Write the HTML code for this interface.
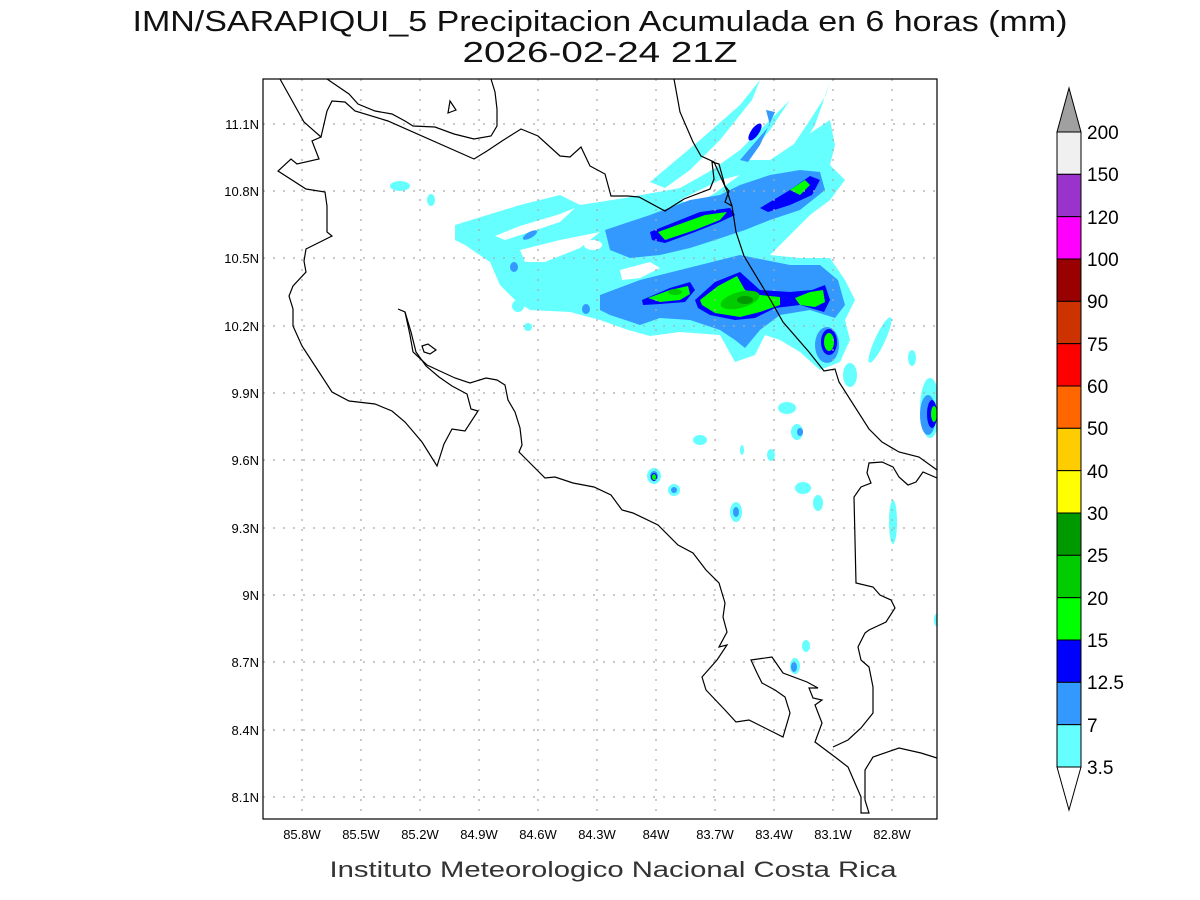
<!DOCTYPE html>
<html><head><meta charset="utf-8"><style>
html,body{margin:0;padding:0;background:#fff;}
svg{display:block}
text{font-family:"Liberation Sans",sans-serif;}
</style></head><body>
<svg width="1200" height="900" viewBox="0 0 1200 900" xmlns="http://www.w3.org/2000/svg">
<rect width="1200" height="900" fill="#fff"/>
<text x="600" y="31" font-size="29" text-anchor="middle" textLength="935" lengthAdjust="spacingAndGlyphs" fill="#111">IMN/SARAPIQUI_5 Precipitacion Acumulada en 6 horas (mm)</text>
<text x="600" y="62" font-size="29" text-anchor="middle" textLength="275" lengthAdjust="spacingAndGlyphs" fill="#111">2026-02-24 21Z</text>

<defs><clipPath id="c"><rect x="263" y="79" width="674" height="740"/></clipPath></defs>
<g clip-path="url(#c)">
<g fill="#66ffff">
<path d="M455,225 L520,205 L560,195 L580,205 L625,198 L680,188 L712,170 L740,150 L770,120 L790,100 L770,130 L745,160 L770,160 L800,140 L815,130 L830,120 L835,145 L830,165 L845,180 L830,200 L810,215 L790,235 L770,255 L800,258 L830,258 L845,280 L855,300 L845,320 L850,340 L840,362 L820,370 L800,352 L780,340 L765,335 L755,355 L735,362 L720,335 L680,332 L650,336 L628,330 L600,320 L570,312 L530,310 L515,300 L500,285 L490,262 L465,245 L455,240Z"/>
<path d="M650,182 L700,140 L740,105 L760,80 L752,100 L720,140 L690,170 L665,188Z"/>
<path d="M770,180 L810,120 L826,95 L830,82 L815,125 L790,165 L778,190Z"/>
<ellipse cx="400" cy="186" rx="10" ry="5"/><ellipse cx="431" cy="200" rx="4" ry="6"/>
<ellipse cx="518" cy="306" rx="6" ry="6"/><ellipse cx="528" cy="327" rx="4" ry="4"/>
<ellipse cx="850" cy="375" rx="7" ry="12"/><ellipse cx="880" cy="340" rx="5" ry="25" transform="rotate(25 880 340)"/>
<ellipse cx="912" cy="358" rx="4" ry="8"/><ellipse cx="930" cy="408" rx="10" ry="30"/>
<ellipse cx="700" cy="440" rx="7" ry="5"/><ellipse cx="787" cy="408" rx="9" ry="6"/><ellipse cx="797" cy="432" rx="6" ry="8"/>
<ellipse cx="742" cy="450" rx="2" ry="5"/><ellipse cx="771" cy="455" rx="4" ry="6"/>
<ellipse cx="654" cy="476" rx="7" ry="8"/><ellipse cx="674" cy="490" rx="6" ry="6"/>
<ellipse cx="736" cy="512" rx="6" ry="10"/><ellipse cx="803" cy="488" rx="8" ry="6"/><ellipse cx="818" cy="503" rx="5" ry="8"/>
<ellipse cx="893" cy="522" rx="4" ry="22"/><ellipse cx="806" cy="646" rx="4" ry="6"/><ellipse cx="795" cy="666" rx="5" ry="8"/>
<ellipse cx="936" cy="620" rx="2" ry="6"/>
</g>
<g fill="#fff">
<path d="M495,236 L520,226 L560,214 L575,208 L560,222 L530,232 L505,240Z"/>
<ellipse cx="593" cy="245" rx="9" ry="5"/>
<path d="M520,250 L560,240 L600,232 L580,248 L545,262 L525,262Z"/>
<path d="M620,270 L650,262 L660,268 L640,278 L622,280Z"/>
<path d="M680,200 L720,180 L740,175 L712,195 L690,205Z"/>
</g>
<g fill="#3399ff">
<path d="M600,295 L640,280 L700,265 L740,255 L790,265 L820,265 L838,280 L845,305 L835,318 L810,310 L780,315 L760,330 L745,348 L735,340 L720,330 L690,320 L660,318 L640,325 L610,315 L600,310Z"/>
<path d="M605,230 L650,215 L690,200 L720,195 L740,185 L770,175 L800,170 L820,172 L825,190 L800,210 L770,220 L745,230 L715,240 L690,248 L660,255 L630,258 L610,250Z"/>
<path d="M740,160 L770,125 L766,110 L775,112 L760,145 L748,162Z"/>
<ellipse cx="827" cy="345" rx="12" ry="18"/><ellipse cx="928" cy="415" rx="8" ry="20"/>
<ellipse cx="514" cy="267" rx="4" ry="5"/><ellipse cx="586" cy="309" rx="4" ry="5"/><ellipse cx="530" cy="235" rx="8" ry="3" transform="rotate(-30 530 235)"/>
<ellipse cx="736" cy="512" rx="3" ry="5"/><ellipse cx="654" cy="476" rx="4" ry="5"/><ellipse cx="674" cy="490" rx="3" ry="3"/>
<ellipse cx="800" cy="432" rx="3" ry="4"/><ellipse cx="794" cy="667" rx="3" ry="5"/>
</g>
<g fill="#0000ff">
<path d="M642,300 L670,288 L690,282 L695,290 L685,302 L660,304 L643,305Z"/>
<path d="M695,300 L715,282 L740,272 L760,290 L790,292 L812,290 L825,285 L830,300 L824,312 L800,305 L775,308 L755,318 L735,320 L710,315 L698,308Z"/>
<path d="M650,232 L675,222 L700,212 L730,208 L735,215 L720,222 L695,232 L665,243 L652,240Z"/>
<path d="M760,208 L790,190 L810,176 L820,180 L812,195 L790,205 L768,212Z"/>
<ellipse cx="755" cy="132" rx="4" ry="10" transform="rotate(35 755 132)"/>
<ellipse cx="829" cy="342" rx="8" ry="13"/><ellipse cx="932" cy="414" rx="5" ry="14"/><ellipse cx="654" cy="477" rx="3" ry="4"/>
</g>
<g fill="#00ff00">
<path d="M648,298 L670,290 L688,286 L690,294 L680,300 L660,302Z"/>
<path d="M700,300 L718,286 L737,276 L745,290 L760,295 L780,297 L780,305 L760,312 L740,317 L715,313 L702,305Z"/>
<path d="M795,298 L810,292 L823,290 L825,302 L815,307 L800,305Z"/>
<path d="M658,232 L680,224 L705,215 L727,212 L720,220 L695,230 L665,240Z"/>
<path d="M790,190 L805,180 L810,185 L800,195Z"/>
<ellipse cx="829" cy="342" rx="5" ry="9"/><ellipse cx="934" cy="414" rx="3" ry="8"/><ellipse cx="654" cy="477" rx="2" ry="3"/>
</g>
<g fill="#00cc00"><ellipse cx="740" cy="300" rx="20" ry="8" transform="rotate(-15 740 300)"/><ellipse cx="675" cy="292" rx="7" ry="3"/></g>
<g fill="#009900"><ellipse cx="745" cy="300" rx="8" ry="4"/></g>

<g stroke="#aaa" stroke-width="1.2" stroke-dasharray="2,8">
<path d="M302,79V819M361,79V819M420,79V819M479,79V819M538,79V819M597,79V819M656,79V819M715,79V819M774,79V819M833,79V819M892,79V819"/>
<path d="M263,124H937M263,191H937M263,258H937M263,326H937M263,393H937M263,460H937M263,528H937M263,595H937M263,662H937M263,730H937M263,797H937"/>
</g>
<g fill="none" stroke="#000" stroke-width="1.2">
<path d="M280,79 L304,122 L321,137 L312,141 L319,159 L297,164 L291,159 L278,171 L306,189 L325,192 L327,206 L327,232 L332,236 L306,249 L304,261 L306,272 L293,286 L289,296 L293,309 L293,326 L302,346 L319,372 L332,392 L349,401 L375,404 L392,411 L405,422 L422,442 L437,466 L444,444 L452,429 L465,431 L478,411 L471,409 L467,394 L452,386 L439,377 L426,366 L416,352 L411,332 L405,312 L398,309"/>
<path d="M405,312 L410,335 L413,352 L427,365 L442,372 L455,378 L470,383 L486,378 L497,380 L505,385 L508,400 L515,412 L520,428 L522,445 L519,452 L530,463 L545,478 L555,477 L573,483 L594,487 L611,495 L622,510 L633,513 L658,525 L678,545 L693,553 L706,570 L719,583 L725,603 L723,617 L727,632 L719,647 L727,645 L717,660 L702,677 L706,690 L725,710 L736,722 L749,720 L783,737 L790,713 L785,697 L775,690 L762,683 L757,673 L751,660 L772,657 L783,673 L807,682 L818,688 L809,688 L813,698 L822,700 L815,705 L822,723 L815,742 L835,757 L848,767 L861,797 L861,813 L869,813 L865,800 L865,770 L873,757 L899,748 L921,753 L937,758"/>
<path d="M833,747 L848,740 L861,728 L873,713 L873,687 L869,667 L861,660 L858,647 L865,633 L869,630 L886,622 L895,608 L891,600 L880,595 L873,587 L856,583 L854,497 L861,487 L871,483 L867,473 L869,463 L882,462 L893,467 L899,477 L908,485 L916,482 L923,472 L937,478"/>
<path d="M674,79 L680,112 L693,142 L701,156 L714,162 L723,182 L727,191 L732,206 L736,232 L744,256 L770,299 L783,322 L809,352 L824,371 L835,369 L839,382 L869,429 L882,442 L899,452 L919,457 L937,470"/>
<path d="M327,79 L349,94 L358,104 L375,111 L392,114 L405,121 L413,126 L435,127 L454,134 L474,139 L491,136 L497,126 L497,109 L495,92 L491,79"/>
<path d="M321,137 L327,111 L332,101 L345,102 L355,111 L388,121 L474,159 L487,151 L502,141 L521,129 L538,136 L560,156 L570,157 L581,147 L590,166 L605,174 L611,196 L628,196 L639,197 L665,211 L684,199 L710,189 L714,179 L712,162 L719,164 L725,186 L729,191 L725,202 L732,206"/>
<path d="M450,101 L456,110 L448,113Z"/>
<path d="M422,346 L428,344 L436,350 L430,354 L424,352Z"/>
</g>
</g>
<rect x="263" y="79" width="674" height="740" fill="none" stroke="#000" stroke-width="1.2"/>

<g font-size="13" fill="#000" text-anchor="end">
<text x="259" y="129">11.1N</text><text x="259" y="196">10.8N</text><text x="259" y="263">10.5N</text><text x="259" y="331">10.2N</text><text x="259" y="398">9.9N</text><text x="259" y="465">9.6N</text><text x="259" y="533">9.3N</text><text x="259" y="600">9N</text><text x="259" y="667">8.7N</text><text x="259" y="735">8.4N</text><text x="259" y="802">8.1N</text>
</g>
<g font-size="13" fill="#000" text-anchor="middle">
<text x="302" y="839">85.8W</text><text x="361" y="839">85.5W</text><text x="420" y="839">85.2W</text><text x="479" y="839">84.9W</text><text x="538" y="839">84.6W</text><text x="597" y="839">84.3W</text><text x="656" y="839">84W</text><text x="715" y="839">83.7W</text><text x="774" y="839">83.4W</text><text x="833" y="839">83.1W</text><text x="892" y="839">82.8W</text>
</g>
<text x="613" y="877" font-size="22" text-anchor="middle" textLength="567" lengthAdjust="spacingAndGlyphs" fill="#333">Instituto Meteorologico Nacional Costa Rica</text>

<g stroke="#000" stroke-width="1">
<path d="M1069,88 L1081,132 L1057,132Z" fill="#a0a0a0"/>
<rect x="1057" y="132" width="24" height="42.33" fill="#f0f0f0"/>
<rect x="1057" y="174.33" width="24" height="42.33" fill="#9933cc"/>
<rect x="1057" y="216.67" width="24" height="42.33" fill="#ff00ff"/>
<rect x="1057" y="259" width="24" height="42.33" fill="#990000"/>
<rect x="1057" y="301.33" width="24" height="42.33" fill="#cc3300"/>
<rect x="1057" y="343.67" width="24" height="42.33" fill="#ff0000"/>
<rect x="1057" y="386" width="24" height="42.33" fill="#ff6600"/>
<rect x="1057" y="428.33" width="24" height="42.33" fill="#ffcc00"/>
<rect x="1057" y="470.67" width="24" height="42.33" fill="#ffff00"/>
<rect x="1057" y="513" width="24" height="42.33" fill="#009900"/>
<rect x="1057" y="555.33" width="24" height="42.33" fill="#00cc00"/>
<rect x="1057" y="597.67" width="24" height="42.33" fill="#00ff00"/>
<rect x="1057" y="640" width="24" height="42.33" fill="#0000ff"/>
<rect x="1057" y="682.33" width="24" height="42.33" fill="#3399ff"/>
<rect x="1057" y="724.67" width="24" height="42.33" fill="#66ffff"/>
<path d="M1057,767 L1081,767 L1069,810Z" fill="#fff"/>
</g>
<g font-size="19" fill="#000">
<text x="1087" y="139">200</text><text x="1087" y="181">150</text><text x="1087" y="224">120</text><text x="1087" y="266">100</text><text x="1087" y="308">90</text><text x="1087" y="351">75</text><text x="1087" y="393">60</text><text x="1087" y="435">50</text><text x="1087" y="478">40</text><text x="1087" y="520">30</text><text x="1087" y="562">25</text><text x="1087" y="605">20</text><text x="1087" y="647">15</text><text x="1087" y="689">12.5</text><text x="1087" y="732">7</text><text x="1087" y="774">3.5</text>
</g>
</svg>
</body></html>
